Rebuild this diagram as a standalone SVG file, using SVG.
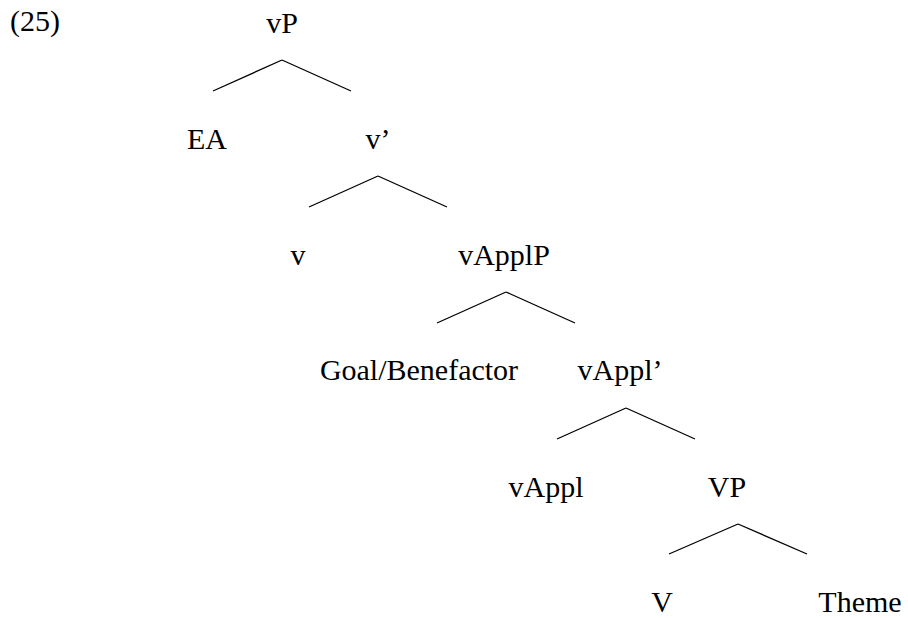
<svg xmlns="http://www.w3.org/2000/svg" width="908" height="618" viewBox="0 0 908 618">
<style>
text{font-family:'Liberation Serif',serif;font-size:30px;fill:#000}
.n text{text-anchor:middle}
.e line{stroke:#000;stroke-width:1.3}
</style>
<rect width="908" height="618" fill="#fff"/>
<text x="10" y="31" font-family="Liberation Serif" style="text-anchor:start">(25)</text>
<g class="n" font-family="Liberation Serif">
<g id="vP"><text x="282" y="33">vP</text></g>
<g id="EA"><text x="207" y="149">EA</text></g>
<g id="vbar"><text x="378" y="149">v’</text></g>
<g id="v"><text x="298" y="265">v</text></g>
<g id="vApplP"><text x="504" y="265">vApplP</text></g>
<g id="Goal"><text x="419" y="380">Goal/Benefactor</text></g>
<g id="vApplbar"><text x="620" y="380">vAppl’</text></g>
<g id="vAppl"><text x="546" y="497">vAppl</text></g>
<g id="VP"><text x="727" y="497">VP</text></g>
<g id="V"><text x="662" y="612">V</text></g>
<g id="Theme"><text x="860" y="612">Theme</text></g>
</g>
<g class="e" id="connectors">
<line x1="282" y1="60" x2="213" y2="91"/><line x1="282" y1="60" x2="351" y2="91"/>
<line x1="378" y1="176" x2="309" y2="207"/><line x1="378" y1="176" x2="447" y2="207"/>
<line x1="506" y1="292" x2="437" y2="323"/><line x1="506" y1="292" x2="575" y2="323"/>
<line x1="626" y1="408" x2="557" y2="439"/><line x1="626" y1="408" x2="695" y2="439"/>
<line x1="738" y1="524" x2="669" y2="554"/><line x1="738" y1="524" x2="807" y2="554"/>
</g>
</svg>
